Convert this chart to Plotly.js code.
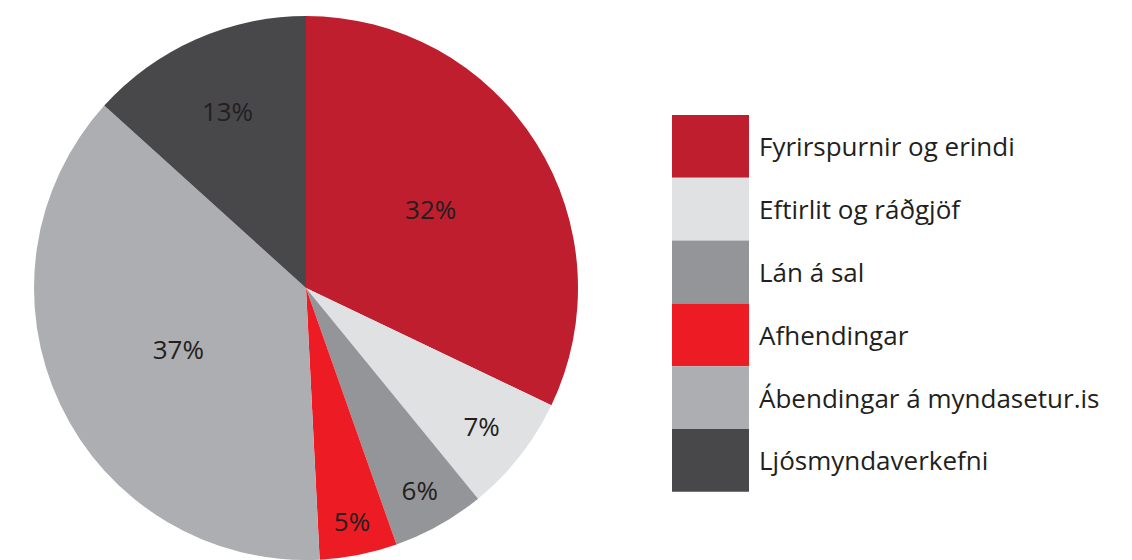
<!DOCTYPE html>
<html>
<head>
<meta charset="utf-8">
<script src="https://cdn.plot.ly/plotly-3.0.1.min.js"></script>
<style>html,body{margin:0;padding:0;background:#fff;}#chart{width:1132px;height:560px;}</style>
</head>
<body>
<div id="chart"></div>
<script>
const categories = ["Fyrirspurnir og erindi", "Eftirlit og ráðgjöf", "Lán á sal", "Afhendingar", "Ábendingar á myndasetur.is", "Ljósmyndaverkefni"];
// slice shares
const values = [32.1, 7.0, 5.5, 4.6, 37.5, 13.3];
// percentages printed on the slices
const printedPercent = [32, 7, 6, 5, 37, 13];
const colors = ["#BE1E2D", "#E0E1E2", "#939598", "#ED1C24", "#ADAEB1", "#48484A"];

const W = 1132, H = 560;
// pie placement (pixels)
const cx = 306, cy = 288, R = 272;

const trace = {
  type: "pie",
  labels: categories,
  values: values,
  customdata: printedPercent,
  sort: false,
  direction: "clockwise",
  rotation: 0,
  marker: {colors: colors, line: {width: 0}},
  texttemplate: "%{customdata}%",
  textposition: "inside",
  insidetextorientation: "horizontal",
  textfont: {family: "Open Sans, sans-serif", size: 26, color: "#231F20"},
  hoverinfo: "label",
  showlegend: false,
  domain: {x: [(cx - R) / W, (cx + R) / W], y: [1 - (cy + R) / H, 1 - (cy - R) / H]}
};

// custom legend built from the category/color arrays
const boxX0 = 672, boxX1 = 749, rowTop = 115, rowH = 62.8, textX = 757;
const shapes = [], annotations = [];
categories.forEach((c, i) => {
  const y0 = rowTop + i * rowH, y1 = y0 + rowH;
  shapes.push({type: "rect", xref: "paper", yref: "paper",
    x0: boxX0 / W, x1: boxX1 / W, y0: 1 - y1 / H, y1: 1 - y0 / H,
    fillcolor: colors[i], line: {width: 0}, layer: "above"});
  annotations.push({xref: "paper", yref: "paper", x: textX / W, y: 1 - (y0 + rowH / 2) / H,
    xanchor: "left", yanchor: "middle", text: c, showarrow: false,
    font: {family: "Open Sans, sans-serif", size: 26, color: "#231F20"}});
});

const layout = {
  width: W, height: H,
  margin: {l: 0, r: 0, t: 0, b: 0},
  paper_bgcolor: "#ffffff",
  showlegend: false,
  uniformtext: {mode: "show", minsize: 26},
  shapes: shapes,
  annotations: annotations
};

Plotly.newPlot("chart", [trace], layout, {displayModeBar: false, staticPlot: true});
</script>
</body>
</html>
